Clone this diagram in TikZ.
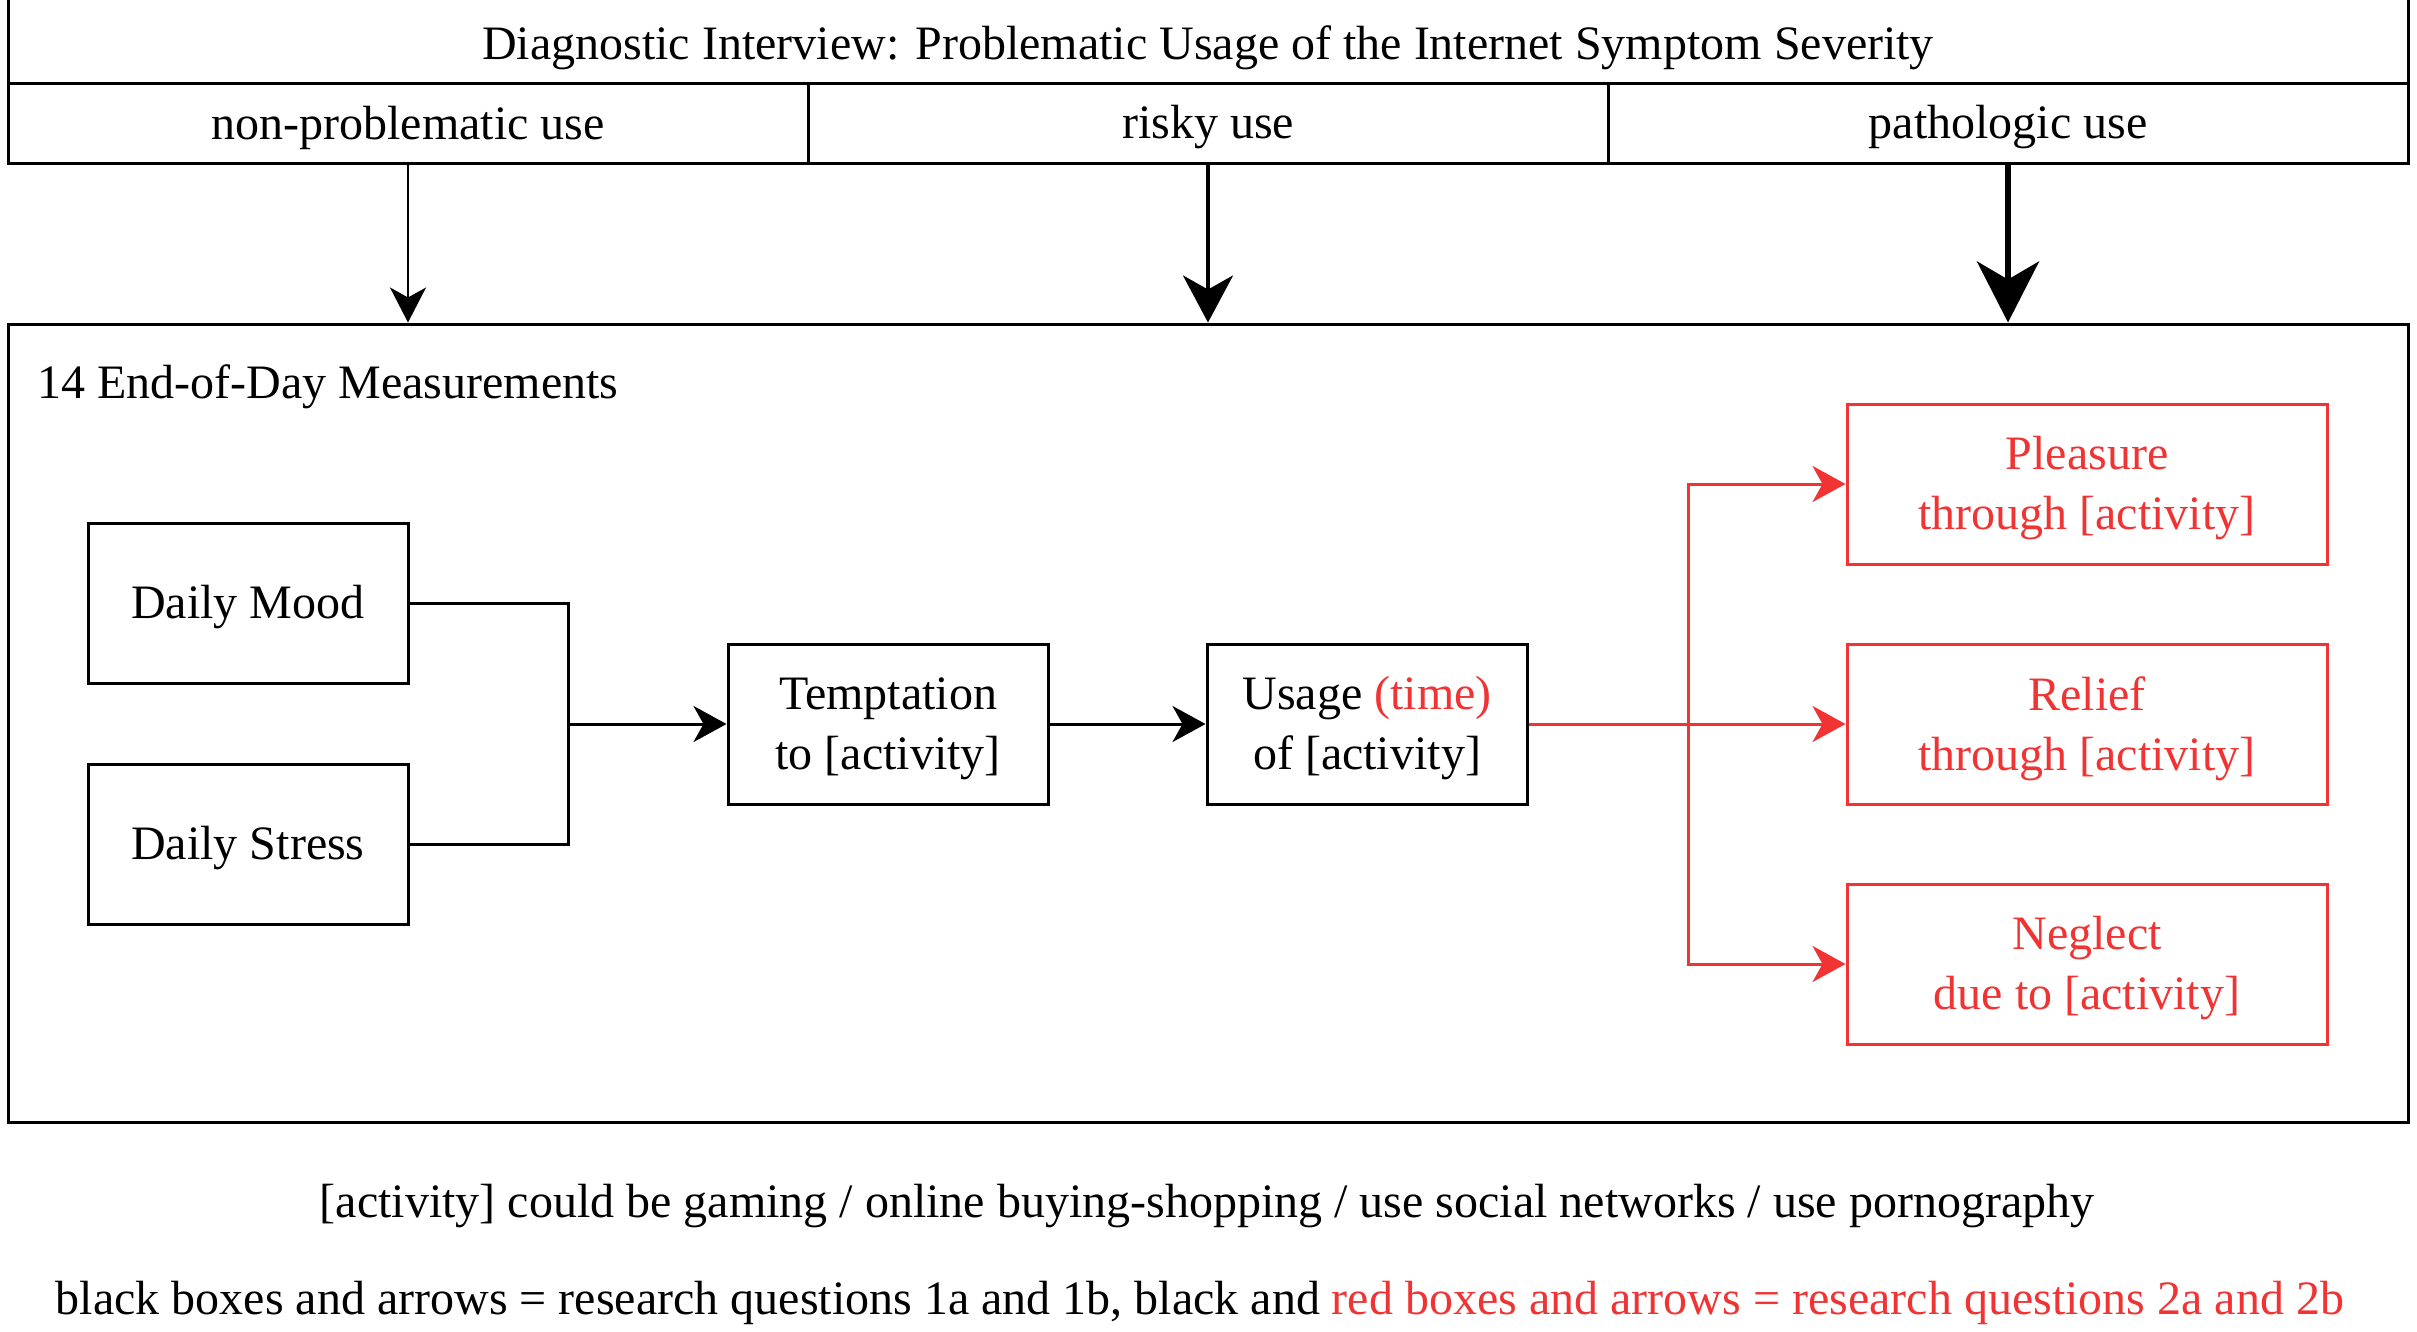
\documentclass[tikz,border=0pt]{standalone}
\usepackage{fontspec}
\setmainfont{Liberation Serif}
\usetikzlibrary{arrows.meta}
\definecolor{myred}{RGB}{240,52,52}
\newcommand\lowr[2][4.5pt]{\raisebox{-#1}[\height][\depth]{#2}}
\begin{document}
\begin{tikzpicture}[x=1pt,y=-1pt,
  txt/.style={font=\fontsize{48}{60}\selectfont, align=center, inner sep=0pt},
  box/.style={txt, draw, line width=3pt},
  redbox/.style={box, draw=myred, text=myred},
  conn/.style={line width=3pt},
  redconn/.style={line width=3pt, draw=myred},
  headS/.style={-{Stealth[length=33pt,width=36pt,inset=10pt]}},
  headR/.style={-{Stealth[length=33pt,width=36pt,inset=10pt,myred]}},
]
\useasboundingbox (0,0) rectangle (2417,1331);
\fill[white] (0,0) rectangle (2417,1331);

% header
\node[box, minimum width=2400pt, minimum height=86pt] (title) at (1208,40) {\lowr[8pt]{Diagnostic Interview: Problematic Usage of the Internet Symptom Severity}};
\node[box, minimum width=800pt, minimum height=80pt] (c1) at (408,123) {\lowr{non-problematic use}};
\node[box, minimum width=800pt, minimum height=80pt] (c2) at (1208,123) {\lowr{risky use}};
\node[box, minimum width=800pt, minimum height=80pt] (c3) at (2008,123) {\lowr{pathologic use}};

% main frame
\node[box, minimum width=2400pt, minimum height=798pt] (main) at (1208,723) {};
\node[txt, anchor=west] (mlabel) at (37,382) {\lowr{14 End-of-Day Measurements}};

% top arrows
\draw[line width=2.5pt, -{Stealth[length=35pt,width=36pt,inset=10pt]}] (c1.south) -- (c1.south |- main.north);
\draw[line width=4pt, -{Stealth[length=47pt,width=50pt,inset=14pt]}] (c2.south) -- (c2.south |- main.north);
\draw[line width=6pt, -{Stealth[length=61pt,width=62pt,inset=18pt]}] (c3.south) -- (c3.south |- main.north);

% boxes
\node[box, minimum width=320pt, minimum height=160pt] (mood) at (248,603) {\lowr{Daily Mood}};
\node[box, minimum width=320pt, minimum height=160pt] (stress) at (248,844) {\lowr{Daily Stress}};
\node[box, minimum width=320pt, minimum height=160pt] (tempt) at (888,724) {\lowr{Temptation}\\\lowr{to [activity]}};
\node[box, minimum width=320pt, minimum height=160pt] (usage) at (1367,724) {\lowr{Usage {\color{myred}(time)}}\\\lowr{of [activity]}};
\node[redbox, minimum width=480pt, minimum height=160pt] (pleas) at (2087,484) {\lowr{Pleasure}\\\lowr{through [activity]}};
\node[redbox, minimum width=480pt, minimum height=160pt] (relief) at (2087,724) {\lowr{Relief}\\\lowr{through [activity]}};
\node[redbox, minimum width=480pt, minimum height=160pt] (negl) at (2087,964) {\lowr{Neglect}\\\lowr{due to [activity]}};

\coordinate (j1) at (568,724);
\coordinate (j2) at (1688,724);

\draw[conn] (mood.east) -| (j1);
\draw[conn] (stress.east) -| (j1);
\draw[conn, headS] (j1) -- (tempt.west);
\draw[conn, headS] (tempt.east) -- (usage.west);

\draw[redconn, headR] (usage.east) -- (relief.west);
\draw[redconn, headR] (j2) |- (pleas.west);
\draw[redconn, headR] (j2) |- (negl.west);

% notes
\node[txt] (note1) at (1207,1202) {\lowr{[activity] could be gaming / online buying-shopping / use social networks / use pornography}};
\node[txt] (note2) at (1200,1298) {\lowr{black boxes and arrows = research questions 1a and 1b, black and {\color{myred}red boxes and arrows = research questions 2a and 2b}}};
\end{tikzpicture}
\end{document}
